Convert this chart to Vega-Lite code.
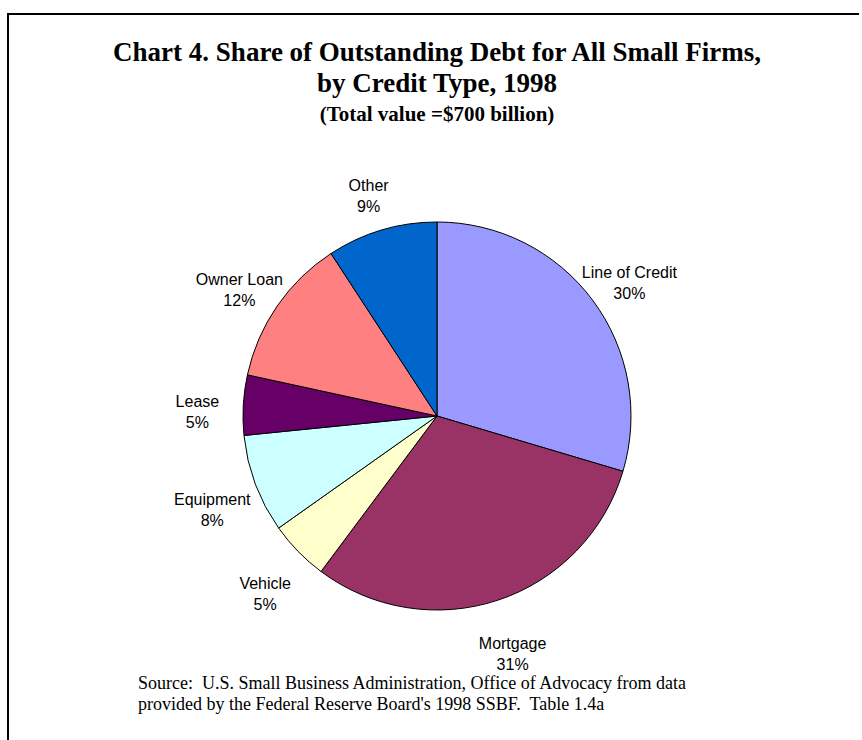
{
  "$schema": "https://vega.github.io/schema/vega-lite/v6.json",
  "autosize": {"type": "pad"},
  "padding": {"left": 7, "top": 13, "right": -8, "bottom": 0},
  "background": "white",
  "title": {
    "text": ["Chart 4. Share of Outstanding Debt for All Small Firms,", "by Credit Type, 1998"],
    "subtitle": "(Total value =$700 billion)",
    "anchor": "middle",
    "frame": "group",
    "orient": "top",
    "font": "Liberation Serif",
    "fontSize": 27,
    "fontWeight": "bold",
    "lineHeight": 31,
    "color": "#000000",
    "subtitleFont": "Liberation Serif",
    "subtitleFontSize": 21,
    "subtitleFontWeight": "bold",
    "subtitleColor": "#000000",
    "subtitlePadding": 6,
    "subtitleLineHeight": 24,
    "offset": -113
  },
  "vconcat": [
    {
      "width": 858,
      "height": 804,
      "view": {"stroke": "#000000", "strokeWidth": 2, "fill": "white"},
      "title": {
        "text": ["Source:\u00a0 U.S. Small Business Administration, Office of Advocacy from data", "provided by the Federal Reserve Board's 1998 SSBF.\u00a0 Table 1.4a"],
        "orient": "bottom",
        "anchor": "start",
        "align": "left",
        "frame": "group",
        "font": "Liberation Serif",
        "fontSize": 18,
        "fontWeight": "normal",
        "lineHeight": 21,
        "color": "#000000",
        "offset": -143,
        "dx": 130
      },
      "data": {
        "values": [
          {"type": "Line of Credit", "share": 29.6, "rank": 1, "label": "Line of Credit\n30%"},
          {"type": "Mortgage", "share": 30.6, "rank": 2, "label": "Mortgage\n31%"},
          {"type": "Vehicle", "share": 5.0, "rank": 3, "label": "Vehicle\n5%"},
          {"type": "Equipment", "share": 8.2, "rank": 4, "label": "Equipment\n8%"},
          {"type": "Lease", "share": 5.0, "rank": 5, "label": "Lease\n5%"},
          {"type": "Owner Loan", "share": 12.4, "rank": 6, "label": "Owner Loan\n12%"},
          {"type": "Other", "share": 9.2, "rank": 7, "label": "Other\n9%"}
        ]
      },
      "encoding": {
        "theta": {"field": "share", "type": "quantitative", "stack": true},
        "order": {"field": "rank", "type": "quantitative"}
      },
      "layer": [
        {
          "mark": {"type": "arc", "outerRadius": 194, "stroke": "#000000", "strokeWidth": 1},
          "encoding": {
            "color": {
              "field": "type",
              "type": "nominal",
              "legend": null,
              "scale": {
                "domain": ["Line of Credit", "Mortgage", "Vehicle", "Equipment", "Lease", "Owner Loan", "Other"],
                "range": ["#9999FF", "#993366", "#FFFFCC", "#CCFFFF", "#660066", "#FF8080", "#0066CC"]
              }
            }
          }
        },
        {
          "mark": {"type": "text", "radius": 240, "font": "Liberation Sans", "fontSize": 16, "lineHeight": 21, "lineBreak": "\n", "align": "center", "baseline": "middle", "fill": "#000000"},
          "encoding": {"text": {"field": "label", "type": "nominal"}}
        }
      ]
    }
  ],
  "config": {"view": {"stroke": "#000000", "strokeWidth": 2}, "concat": {"spacing": 0}}
}
